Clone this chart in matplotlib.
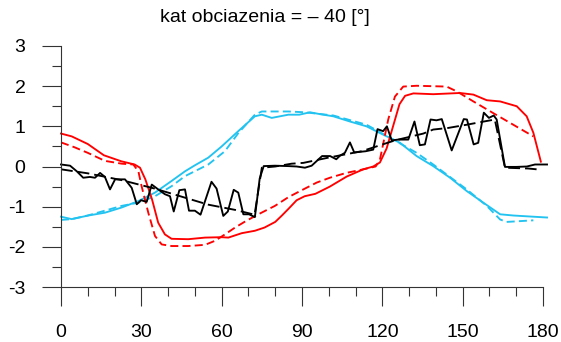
import matplotlib
matplotlib.use("Agg")
import matplotlib.pyplot as plt
from matplotlib.ticker import MultipleLocator

plt.rcParams['font.family'] = ['Liberation Sans', 'DejaVu Sans']
plt.rcParams['lines.scale_dashes'] = False
plt.rcParams['axes.unicode_minus'] = False

title = "kat obciazenia = – 40 [°]"
xticks = [0, 30, 60, 90, 120, 150, 180]
yticks = [-3, -2, -1, 0, 1, 2, 3]

# red solid
red_x = [0, 4, 10, 16, 22.5, 27.5, 29.5, 31.5, 34, 36.3, 38.8, 41.3, 47.5, 53.8, 60, 62.5,
         67.5, 72.4, 76, 80, 82.5, 85, 88, 91, 95, 100.4, 106.7, 112.9, 116.6, 119.1, 121.6,
         124, 126.4, 128.5, 131.6, 139, 149, 154, 159, 164, 170.2, 173.9, 176.4, 179.2]
red_y = [0.82, 0.75, 0.56, 0.28, 0.13, 0.05, -0.03, -0.32, -0.82, -1.40, -1.69, -1.80, -1.81,
         -1.77, -1.76, -1.77, -1.66, -1.60, -1.52, -1.38, -1.22, -1.05, -0.84, -0.74, -0.68,
         -0.50, -0.25, -0.07, 0.0, 0.10, 0.45, 1.0, 1.55, 1.76, 1.82, 1.80, 1.83, 1.79, 1.65,
         1.62, 1.50, 1.25, 0.84, 0.12]

# red dashed
redd_x = [0, 5, 10, 16.4, 22.7, 27, 28.9, 30.1, 32.6, 35.1, 37.6, 41.3, 47.5, 53.8, 57.5, 61,
          65, 69, 73.7, 79.9, 85, 90.5, 95.5, 100.4, 106.5, 112.9, 117.5, 119.1, 120.4, 122.2,
          124.7, 127.8, 132.8, 144, 147.8, 154, 161.4, 168.9, 176.4]
redd_y = [0.60, 0.48, 0.34, 0.14, 0.07, 0.05, -0.12, -0.49, -1.15, -1.73, -1.94, -1.98, -1.98,
          -1.95, -1.85, -1.70, -1.52, -1.36, -1.19, -0.98, -0.76, -0.57, -0.40, -0.28, -0.16,
          -0.07, 0.0, 0.17, 0.59, 1.17, 1.74, 1.99, 2.01, 1.99, 1.87, 1.62, 1.33, 1.04, 0.75]

# cyan solid
cyan_x = [0, 4, 10.2, 16.4, 22.7, 28.9, 35.1, 41.3, 46.3, 50, 55, 60, 66.2, 72.4, 75, 78.7,
          84.9, 89, 93, 97, 101.7, 107.9, 114.1, 120.4, 126.6, 132.8, 139, 145.3, 151.5,
          157.7, 164, 168.9, 176.4, 181.5]
cyan_y = [-1.25, -1.31, -1.22, -1.15, -1.02, -0.86, -0.65, -0.36, -0.12, 0.03, 0.22, 0.50, 0.88,
          1.25, 1.29, 1.21, 1.29, 1.29, 1.35, 1.30, 1.25, 1.12, 1.0, 0.79, 0.59, 0.26, 0.01,
          -0.28, -0.61, -0.90, -1.19, -1.22, -1.25, -1.27]

# cyan dashed
cyand_x = [0, 4, 10, 22.7, 28.9, 35.1, 41.3, 46.3, 55, 61.2, 66.2, 72.4, 75, 85, 91, 101.7,
           114.1, 124.1, 132.8, 139, 151.5, 159, 164, 166.4, 176.4]
cyand_y = [-1.33, -1.31, -1.22, -0.98, -0.90, -0.74, -0.49, -0.24, 0.05, 0.38, 0.83, 1.29, 1.37,
           1.37, 1.35, 1.27, 1.04, 0.67, 0.34, 0.05, -0.57, -0.98, -1.32, -1.38, -1.34]

# black solid
blk_x = [0, 3.4, 5.9, 8.3, 10.8, 12.7, 14.6, 16.4, 18.3, 20.2, 23.9, 26.4, 28.3, 29.9, 32,
         33.9, 36.3, 38.8, 40.7, 42.1, 44.2, 46.3, 47.8, 50, 52.1, 56.2, 58.1, 60.6, 62.3,
         64.5, 66.2, 68.1, 70.2, 72.4, 74.2, 75.7, 79.9, 84.9, 88, 91.1, 93.6, 97.5, 100.5,
         102.8, 104.2, 106, 107.9, 109.5, 113.8, 116.6, 118.2, 120.3, 121.7, 123.5, 125.9,
         129.7, 132, 134, 135.9, 138, 140.2, 142.2, 145.9, 150.4, 151.6, 154.1, 155.8, 157.9,
         159.8, 161.6, 162.7, 165.8, 170, 174, 177, 181.5]
blk_y = [0.05, 0.02, -0.12, -0.28, -0.26, -0.28, -0.16, -0.26, -0.57, -0.32, -0.32, -0.53,
         -0.94, -0.84, -0.88, -0.45, -0.57, -0.69, -0.74, -1.12, -0.59, -0.57, -1.10, -1.10,
         -1.20, -0.38, -0.55, -1.23, -1.12, -0.58, -0.65, -1.19, -1.19, -1.26, -0.30, 0.01,
         0.02, 0.01, 0.0, -0.03, 0.02, 0.26, 0.26, 0.18, 0.27, 0.34, 0.60, 0.35, 0.38, 0.42,
         0.93, 0.88, 1.0, 0.65, 0.67, 0.67, 1.12, 0.53, 0.55, 1.17, 1.15, 1.18, 0.40, 1.18,
         1.17, 0.55, 0.59, 1.34, 1.21, 1.27, 1.17, -0.01, -0.01, 0.0, 0.05, 0.05]

# black dashed
blkd_x = [0, 10, 22.7, 35, 45, 55, 65, 72.3, 75, 80, 86.1, 90.5, 99.8, 112.3, 124.7, 135.3,
          139, 144.6, 151.5, 157.1, 162, 165.8, 174.5, 177.6]
blkd_y = [-0.07, -0.17, -0.34, -0.55, -0.75, -0.95, -1.08, -1.20, -0.03, 0.0, 0.07, 0.09, 0.22,
          0.38, 0.65, 0.82, 0.92, 0.96, 1.04, 1.11, 1.17, -0.03, -0.05, -0.07]

RED = '#ff0000'
CYAN = '#22c3f0'
BLACK = '#000000'

fig = plt.figure(figsize=(5.61, 3.42), dpi=100)
ax = fig.add_axes([61/561, 1 - 287/342, (543 - 61)/561, (287 - 46)/342])

lw = 1.35
ax.plot(cyand_x, cyand_y, color=CYAN, lw=lw, dashes=(5.8, 3.0), clip_on=False)
ax.plot(cyan_x, cyan_y, color=CYAN, lw=lw, clip_on=False)
ax.plot(redd_x, redd_y, color=RED, lw=lw, dashes=(5.8, 3.0), clip_on=False)
ax.plot(red_x, red_y, color=RED, lw=lw, clip_on=False)
ax.plot(blkd_x, blkd_y, color=BLACK, lw=lw, dashes=(8.5, 3.6), clip_on=False)
ax.plot(blk_x, blk_y, color=BLACK, lw=lw, clip_on=False)

ax.set_xlim(0, 180)
ax.set_ylim(-3, 3)
ax.set_xticks(xticks)
ax.set_yticks(yticks)
ax.xaxis.set_minor_locator(MultipleLocator(10))
ax.yaxis.set_minor_locator(MultipleLocator(0.5))
for s in ['top', 'right']:
    ax.spines[s].set_visible(False)
for s in ['left', 'bottom']:
    ax.spines[s].set_linewidth(0.8)
    ax.spines[s].set_color('#333333')
ax.tick_params(axis='both', which='major', direction='out', length=13.5, width=0.8,
               color='#333333', labelsize=14)
ax.tick_params(axis='both', which='minor', direction='out', length=6.5, width=0.8,
               color='#333333')
ax.tick_params(axis='y', which='major', pad=12)
ax.tick_params(axis='x', which='major', pad=13)

fig.text(265/561, 1 - 17/342, title, ha='center', va='center', fontsize=14)

fig.savefig('out.png', dpi=100)
